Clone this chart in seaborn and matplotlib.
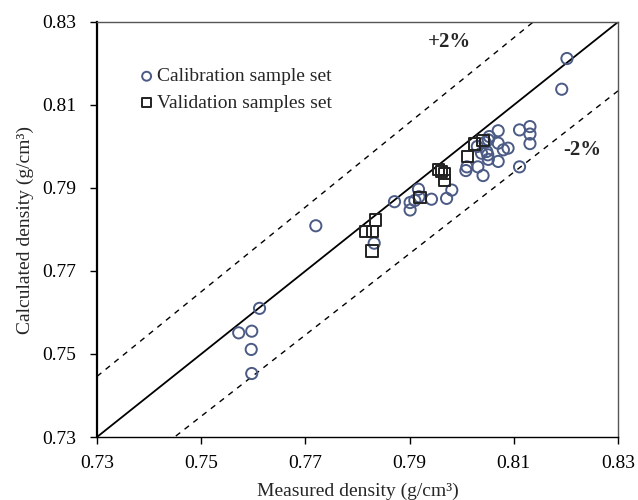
import numpy as np
import pandas as pd
import matplotlib
matplotlib.use('Agg')
import matplotlib.pyplot as plt
import seaborn as sns

# Calibration sample set (measured, calculated) in g/cm3
cal_measured = [0.7572, 0.7597, 0.7596, 0.7597, 0.7612, 0.7720, 0.7832, 0.7871,
                0.7901, 0.7901, 0.7910, 0.7917, 0.7918, 0.7942, 0.7971, 0.7981,
                0.8008, 0.8010, 0.8031, 0.8041, 0.8051, 0.8070, 0.8048, 0.8038,
                0.8050, 0.8080, 0.8089, 0.8070, 0.8051, 0.8053, 0.8070, 0.8111,
                0.8131, 0.8131, 0.8131, 0.8111, 0.8192, 0.8202, 0.8030, 0.8045]
cal_calculated = [0.7551, 0.7555, 0.7511, 0.7453, 0.7610, 0.7809, 0.7767, 0.7867,
                  0.7865, 0.7847, 0.7870, 0.7897, 0.7879, 0.7873, 0.7875, 0.7895,
                  0.7942, 0.7951, 0.7951, 0.7930, 0.7969, 0.7964, 0.7988, 0.7984,
                  0.7980, 0.7992, 0.7996, 0.8008, 0.8016, 0.8024, 0.8038, 0.8040,
                  0.8048, 0.8030, 0.8007, 0.7951, 0.8138, 0.8212, 0.8000, 0.8010]

# Validation samples set
val_measured = [0.7828, 0.7815, 0.7829, 0.7834, 0.7920, 0.7955, 0.7961, 0.7967,
                0.7967, 0.8011, 0.8024, 0.8041]
val_calculated = [0.7748, 0.7795, 0.7796, 0.7823, 0.7878, 0.7945, 0.7939, 0.7934,
                  0.7918, 0.7975, 0.8006, 0.8014]

# reference lines: 1:1 and +/-2 %
line_x = [0.73, 0.83]
band = 0.02

cal = pd.DataFrame({'measured': cal_measured, 'calculated': cal_calculated})
val = pd.DataFrame({'measured': val_measured, 'calculated': val_calculated})

sns.set_style('ticks')
plt.rcParams['font.family'] = ['Liberation Serif', 'DejaVu Serif']

fig = plt.figure(figsize=(6.38, 5.0), dpi=100)
ax = fig.add_axes([97 / 638, 63 / 500, 521 / 638, 415 / 500])

lx = np.array(line_x)
ax.plot(lx, lx, color='black', lw=1.3, zorder=1)
ax.plot(lx, lx * (1 + band), color='black', lw=1.0, ls=(0, (4, 4)), zorder=1)
ax.plot(lx, lx * (1 - band), color='black', lw=1.0, ls=(0, (4, 4)), zorder=1)

sns.scatterplot(data=cal, x='measured', y='calculated', ax=ax, marker='o', s=65,
                facecolor='none', edgecolor='#4b5b85', linewidth=1.4,
                label='Calibration sample set', zorder=3)
sns.scatterplot(data=val, x='measured', y='calculated', ax=ax, marker='s', s=65,
                facecolor='none', edgecolor='#222222', linewidth=1.4,
                label='Validation samples set', zorder=4)

ax.set_xlim(0.73, 0.83)
ax.set_ylim(0.73, 0.83)
ticks = [0.73, 0.75, 0.77, 0.79, 0.81, 0.83]
ax.set_xticks(ticks)
ax.set_yticks(ticks)
ax.set_xticklabels([f'{t:.2f}' for t in ticks])
ax.set_yticklabels([f'{t:.2f}' for t in ticks])
ax.tick_params(axis='both', direction='out', length=5, width=1, labelsize=14,
               colors='black', top=False, right=False)
ax.tick_params(axis='x', pad=8)
ax.tick_params(axis='y', pad=10)

for side in ['top', 'right']:
    ax.spines[side].set_color('#555555')
    ax.spines[side].set_linewidth(1.0)
ax.spines['left'].set_linewidth(1.6)
ax.spines['bottom'].set_linewidth(1.0)
ax.spines['left'].set_color('black')
ax.spines['bottom'].set_color('black')

ax.set_xlabel('Measured density (g/cm³)', fontsize=14, labelpad=8)
ax.set_ylabel('Calculated density (g/cm³)', fontsize=14, labelpad=6)

ax.text(0.7976, 0.8253, '+2%', fontsize=15, fontweight='bold', ha='center', va='center')
ax.text(0.8231, 0.7992, '-2%', fontsize=15, fontweight='bold', ha='center', va='center')

ax.legend(loc='upper left', bbox_to_anchor=(0.043, 0.932), frameon=False, fontsize=14,
          handletextpad=0.05, handlelength=1.0, labelspacing=0.45, markerscale=0.8)

plt.savefig('out.png', dpi=100)
plt.close()
